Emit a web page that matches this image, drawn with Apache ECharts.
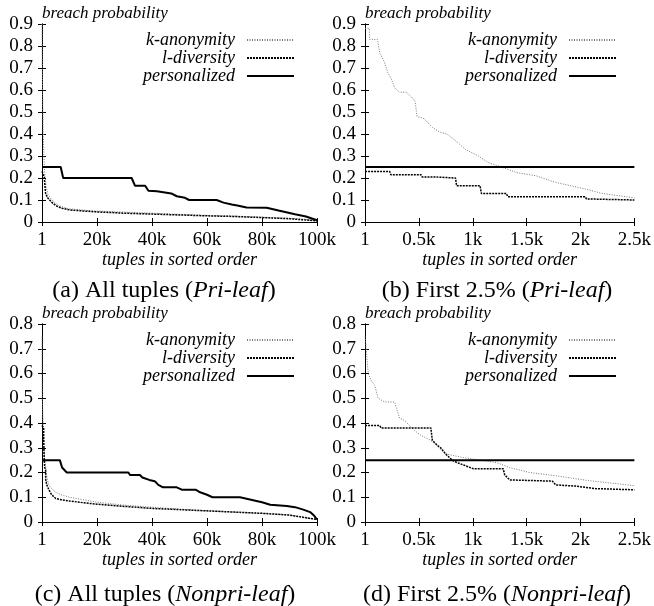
<!DOCTYPE html>
<html><head><meta charset="utf-8">
<script src="https://cdn.jsdelivr.net/npm/echarts@6/dist/echarts.min.js"></script>
<style>html,body{margin:0;padding:0;background:#fff}#c{width:654px;height:606px}</style>
</head><body><div id="c"></div>
<script>
const seriesNames = ['k-anonymity', 'l-diversity', 'personalized'];
const captions = [
  ['(a) All tuples (', 'Pri-leaf', ')'],
  ['(b) First 2.5% (', 'Pri-leaf', ')'],
  ['(c) All tuples (', 'Nonpri-leaf', ')'],
  ['(d) First 2.5% (', 'Nonpri-leaf', ')']
];
const yTitle = 'breach probability';
const xTitle = 'tuples in sorted order';

// Panel (a): all tuples, Pri-leaf
const aKAnon = [[1,0.9],[200,0.6],[400,0.42],[700,0.3],[1000,0.22],[1500,0.16],[2200,0.125],[3000,0.11],[4000,0.095],[5000,0.085],[6000,0.075],[8000,0.066],[10000,0.06],[15000,0.054],[20000,0.05],[30000,0.045],[40000,0.04],[50000,0.035],[60000,0.03],[70000,0.027],[80000,0.022],[90000,0.017],[95000,0.013],[100000,0.005]];
const aLDiv = [[1,0.23],[230,0.23],[640,0.21],[840,0.2],[1070,0.165],[1310,0.13],[2045,0.11],[2500,0.105],[3500,0.09],[5000,0.075],[7000,0.063],[10000,0.055],[15000,0.05],[20000,0.046],[30000,0.04],[40000,0.036],[50000,0.032],[60000,0.028],[70000,0.025],[80000,0.02],[90000,0.015],[100000,0.005]];
const aPers = [[1,0.25],[6800,0.25],[7700,0.2],[32600,0.2],[33800,0.165],[37500,0.165],[38700,0.142],[41800,0.14],[42500,0.131],[47000,0.13],[49000,0.117],[52000,0.11],[53500,0.1],[63500,0.1],[66000,0.088],[69000,0.08],[71000,0.075],[74400,0.066],[81700,0.065],[86000,0.052],[92000,0.035],[96000,0.025],[100000,0.008]];

// Panel (b): first 2.5%, Pri-leaf
const bKAnon = [[1,0.88],[40,0.88],[42,0.83],[115,0.83],[137,0.77],[177,0.73],[211,0.68],[244,0.65],[275,0.61],[320,0.59],[382,0.59],[428,0.57],[464,0.55],[483,0.48],[549,0.47],[625,0.43],[687,0.41],[760,0.4],[778,0.4],[840,0.37],[931,0.33],[1053,0.3],[1145,0.27],[1266,0.25],[1404,0.225],[1587,0.21],[1770,0.18],[2045,0.15],[2198,0.13],[2500,0.11]];
const bLDiv = [[1,0.23],[229,0.23],[240,0.215],[519,0.215],[530,0.205],[641,0.205],[650,0.2],[840,0.2],[850,0.165],[1068,0.165],[1080,0.13],[1312,0.13],[1325,0.115],[2045,0.115],[2055,0.105],[2500,0.1]];
const bPers = [[1,0.25],[2500,0.25]];

// Panel (c): all tuples, Nonpri-leaf
const cKAnon = [[1,0.75],[15,0.6],[60,0.55],[120,0.5],[180,0.485],[275,0.485],[320,0.42],[400,0.39],[520,0.35],[700,0.3],[900,0.26],[1200,0.24],[1500,0.2],[2000,0.17],[2500,0.15],[3500,0.135],[5000,0.12],[7000,0.11],[10000,0.1],[15000,0.09],[20000,0.08],[30000,0.068],[40000,0.06],[50000,0.052],[60000,0.045],[70000,0.04],[80000,0.035],[90000,0.028],[100000,0.01]];
const cLDiv = [[1,0.39],[600,0.38],[640,0.33],[800,0.25],[1000,0.22],[1300,0.21],[1350,0.17],[1750,0.15],[2500,0.13],[3500,0.11],[5000,0.095],[7000,0.09],[10000,0.085],[15000,0.078],[20000,0.072],[30000,0.063],[40000,0.055],[50000,0.05],[60000,0.045],[70000,0.04],[80000,0.035],[90000,0.028],[100000,0.01]];
const cPers = [[1,0.25],[6500,0.25],[7300,0.22],[9000,0.2],[31400,0.2],[32000,0.19],[35600,0.19],[36500,0.18],[39000,0.17],[41000,0.165],[42300,0.15],[44000,0.14],[49000,0.14],[51000,0.13],[56000,0.13],[57500,0.12],[60000,0.11],[62000,0.1],[72000,0.1],[76000,0.09],[80000,0.08],[83000,0.07],[89000,0.065],[92000,0.06],[95000,0.05],[97500,0.04],[99000,0.025],[100000,0.01]];

// Panel (d): first 2.5%, Nonpri-leaf
const dKAnon = [[1,0.75],[30,0.6],[61,0.57],[92,0.55],[122,0.5],[183,0.485],[275,0.485],[320,0.42],[366,0.41],[412,0.39],[458,0.37],[519,0.35],[611,0.33],[687,0.3],[748,0.275],[916,0.26],[1068,0.25],[1221,0.24],[1343,0.22],[1526,0.2],[1770,0.187],[2076,0.167],[2500,0.147]];
const dLDiv = [[1,0.39],[137,0.39],[150,0.38],[611,0.38],[625,0.33],[641,0.33],[671,0.31],[702,0.3],[748,0.275],[809,0.25],[855,0.24],[916,0.23],[1007,0.215],[1282,0.215],[1297,0.19],[1343,0.17],[1740,0.165],[1770,0.15],[1953,0.145],[2137,0.135],[2500,0.13]];
const dPers = [[1,0.25],[2500,0.25]];

const xMaxs = [100000, 2500, 100000, 2500];
const xIntervals = [20000, 500, 20000, 500];
const yMaxs = [0.9, 0.9, 0.8, 0.8];
const yInterval = 0.1;
const panelData = [[aKAnon,aLDiv,aPers],[bKAnon,bLDiv,bPers],[cKAnon,cLDiv,cPers],[dKAnon,dLDiv,dPers]];

const FONT = '"Liberation Serif", "Times New Roman", serif';
const grids = [
  {left: 42, top: 24, width: 275, height: 198},
  {left: 365, top: 24, width: 273, height: 198},
  {left: 42, top: 324, width: 275, height: 198},
  {left: 365, top: 324, width: 273, height: 198}
];
const styles = [
  {color: '#777', width: 1, type: [1, 1.5]},
  {color: '#000', width: 1.5, type: [2, 1]},
  {color: '#000', width: 2, type: 'solid'}
];
const xFmt = v => v === 0 ? '1' : (v / 1000) + 'k';
const yFmt = v => Math.abs(v) < 1e-9 ? '0' : (+v).toFixed(1);

const xAxis = [], yAxis = [], series = [], legend = [], title = [];
const legendRight = [359, 37, 359, 37];
const captionX = [164, 497, 165, 497];
const captionY = [279, 279, 583, 583];
grids.forEach((g, i) => {
  const axLine = {show: true, lineStyle: {color: '#000', width: 1}};
  const tick = {show: true, inside: true, length: 4, lineStyle: {color: '#000'}};
  xAxis.push({type: 'value', gridIndex: i, min: 0, max: xMaxs[i], interval: xIntervals[i], position: 'bottom',
    axisLine: axLine, axisTick: tick, splitLine: {show: false},
    axisLabel: {formatter: xFmt, fontFamily: FONT, fontSize: 19, color: '#000', margin: 9},
    name: xTitle, nameLocation: 'middle', nameGap: 29,
    nameTextStyle: {fontFamily: FONT, fontStyle: 'italic', fontSize: 18, color: '#000'}});
  xAxis.push({type: 'value', gridIndex: i, min: 0, max: xMaxs[i], interval: xIntervals[i], position: 'top',
    axisLine: axLine, axisTick: tick, splitLine: {show: false}, axisLabel: {show: false}});
  yAxis.push({type: 'value', gridIndex: i, min: 0, max: yMaxs[i], interval: yInterval, position: 'left',
    axisLine: axLine, axisTick: tick, splitLine: {show: false},
    axisLabel: {formatter: yFmt, fontFamily: FONT, fontSize: 19, color: '#000', margin: 9},
    name: yTitle, nameLocation: 'end', nameGap: 10,
    nameTextStyle: {fontFamily: FONT, fontStyle: 'italic', fontSize: 17, color: '#000', align: 'left', verticalAlign: 'middle'}});
  yAxis.push({type: 'value', gridIndex: i, min: 0, max: yMaxs[i], interval: yInterval, position: 'right',
    axisLine: axLine, axisTick: tick, splitLine: {show: false}, axisLabel: {show: false}});
  panelData[i].forEach((d, k) => {
    series.push({type: 'line', name: seriesNames[k], xAxisIndex: 2 * i, yAxisIndex: 2 * i, data: d,
      symbol: 'none', showSymbol: false, animation: false, color: styles[k].color,
      lineStyle: {color: styles[k].color, width: styles[k].width, type: styles[k].type}});
  });
  legend.push({data: seriesNames, orient: 'vertical', align: 'right', right: legendRight[i], top: g.top + 7,
    itemWidth: 47, itemHeight: 10, itemGap: 0, padding: 0, selectedMode: false,
    itemStyle: {color: 'transparent', borderColor: 'transparent', borderWidth: 0},
    textStyle: {fontFamily: FONT, fontStyle: 'italic', fontSize: 18, color: '#000', lineHeight: 17, padding: [0, 7, 0, 0]}});
  const cap = captions[i];
  title.push({text: '{n|' + cap[0] + '}{i|' + cap[1] + '}{n|' + cap[2] + '}', left: captionX[i], top: captionY[i],
    textAlign: 'center', padding: 0,
    textStyle: {fontWeight: 'normal', rich: {
      n: {fontFamily: FONT, fontSize: 24, fontWeight: 'normal', color: '#000'},
      i: {fontFamily: FONT, fontSize: 24, fontWeight: 'normal', fontStyle: 'italic', color: '#000'}}}});
});

const chart = echarts.init(document.getElementById('c'), null, {renderer: 'canvas'});
chart.setOption({animation: false, backgroundColor: '#fff', grid: grids, xAxis, yAxis, series, legend, title});
</script>
</body></html>
